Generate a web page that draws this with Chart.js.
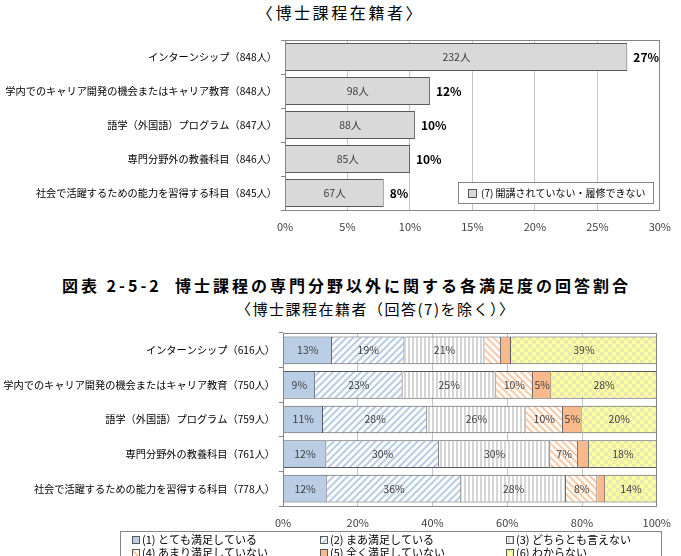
<!DOCTYPE html>
<html lang="ja">
<head>
<meta charset="utf-8">
<script src="https://cdn.jsdelivr.net/npm/chart.js@4/dist/chart.umd.min.js"></script>
<style>
  body { margin: 0; background: #fff; width: 681px; height: 556px; overflow: hidden; position: relative;
         font-family: "Noto Sans CJK JP", sans-serif; }
  .t { position: absolute; left: 0; width: 681px; text-align: center; color: #000; white-space: nowrap; line-height: 20px; }
  canvas { position: absolute; left: 0; }
</style>
</head>
<body>
<div class="t" style="top:2px;font-size:16px;letter-spacing:2.6px">〈博士課程在籍者〉</div>
<div class="t" style="top:275px;left:6px;font-size:16px;font-weight:bold;letter-spacing:3px">図表 2-5-2&nbsp;&nbsp;博士課程の専門分野以外に関する各満足度の回答割合</div>
<div class="t" style="top:299px;font-size:15px;letter-spacing:1.5px;left:236px;width:auto;text-align:left">〈博士課程在籍者（回答(7)を除く）〉</div>
<canvas id="chart-top" width="681" height="240" style="top:0"></canvas>
<canvas id="chart-bottom" width="681" height="236" style="top:320px"></canvas>
<script>
// =============================================
// データ
// =============================================
const topCategories = [
  'インターンシップ（848人）',
  '学内でのキャリア開発の機会またはキャリア教育（848人）',
  '語学（外国語）プログラム（847人）',
  '専門分野外の教養科目（846人）',
  '社会で活躍するための能力を習得する科目（845人）'
]
const topCounts  = [232, 98, 88, 85, 67]
const topPercent = [27.4, 11.6, 10.4, 10.0, 7.9]
const topLegend  = '(7) 開講されていない・履修できない'
const topTicks   = [0, 5, 10, 15, 20, 25, 30]

const bottomCategories = [
  'インターンシップ（616人）',
  '学内でのキャリア開発の機会またはキャリア教育（750人）',
  '語学（外国語）プログラム（759人）',
  '専門分野外の教養科目（761人）',
  '社会で活躍するための能力を習得する科目（778人）'
]
const levelLabels = [
  '(1) とても満足している',
  '(2) まあ満足している',
  '(3) どちらとも言えない',
  '(4) あまり満足していない',
  '(5) 全く満足していない',
  '(6) わからない'
]
const level1 = [13.1, 8.6, 10.7, 11.6, 11.7]
const level2 = [19.4, 23.4, 27.9, 30.1, 36.0]
const level3 = [21.4, 24.9, 26.3, 29.8, 28.0]
const level4 = [4.4, 10.0, 10.0, 7.4, 8.4]
const level5 = [2.7, 4.9, 5.0, 3.0, 2.1]
const level6 = [39.0, 28.2, 20.1, 18.1, 13.8]
const bottomTicks = [0, 20, 40, 60, 80, 100]

// =============================================
// 共通スタイル
// =============================================
const FONT = '"Noto Sans CJK JP", sans-serif'
const EDGE = '#5a5a5a'
const GRID = '#c4c4c4'

// =============================================
// パターン
// =============================================
function tile(size, draw) {
  const c = document.createElement('canvas')
  c.width = size; c.height = size
  const g = c.getContext('2d')
  g.fillStyle = '#fff'
  g.fillRect(0, 0, size, size)
  draw(g, size)
  return document.createElement('canvas').getContext('2d').createPattern(c, 'repeat')
}
function diag(color, forward) {
  return tile(7, (g, s) => {
    g.strokeStyle = color; g.lineWidth = 2
    const seg = (x1, y1, x2, y2) => {
      if (!forward) { x1 = s - x1; x2 = s - x2 }
      g.beginPath(); g.moveTo(x1, y1); g.lineTo(x2, y2); g.stroke()
    }
    seg(0, s, s, 0); seg(-1, 1, 1, -1); seg(s - 1, s + 1, s + 1, s - 1)
  })
}
const fills = [
  '#b9cde5',
  diag('#b9cde5', true),
  tile(4, g => { g.fillStyle = '#d6d6d6'; g.fillRect(0, 0, 2, 4) }),
  diag('#fbcaa6', false),
  '#fab98c',
  tile(8, g => {
    g.fillStyle = '#ffff9e'; g.fillRect(0, 0, 8, 8)
    g.fillStyle = '#e9e9b4'; g.fillRect(0, 0, 4, 4); g.fillRect(4, 4, 4, 4)
  })
]

// =============================================
// プラグイン
// =============================================
const frame = {
  id: 'frame',
  afterDatasetsDraw(chart) {
    const { ctx, chartArea: a } = chart
    ctx.save()
    ctx.strokeStyle = '#868686'; ctx.lineWidth = 1
    ctx.strokeRect(Math.round(a.left) + 0.5, Math.round(a.top) + 0.5,
                   Math.round(a.right - a.left) - 1, Math.round(a.bottom - a.top))
    ctx.restore()
  }
}

const topLabels = {
  id: 'topLabels',
  afterDatasetsDraw(chart) {
    const { ctx, chartArea: a } = chart
    const meta = chart.getDatasetMeta(0)
    ctx.save()
    ctx.textBaseline = 'middle'
    meta.data.forEach((bar, i) => {
      ctx.fillStyle = '#404040'; ctx.textAlign = 'center'
      ctx.font = `10.5px ${FONT}`
      ctx.fillText(topCounts[i] + '人', (bar.x + bar.base) / 2, bar.y)
      ctx.fillStyle = '#000'; ctx.textAlign = 'left'
      ctx.font = `bold 12px ${FONT}`
      ctx.fillText(Math.round(topPercent[i]) + '%', bar.x + 6, bar.y)
    })
    // 凡例（プロット内・右下）
    const bx = a.left + 173, by = a.bottom - 28
    ctx.fillStyle = '#fff'
    ctx.fillRect(bx, by, 195, 21)
    ctx.strokeStyle = '#868686'
    ctx.strokeRect(bx + 0.5, by + 0.5, 195, 21)
    ctx.fillStyle = '#d9d9d9'
    ctx.fillRect(bx + 10, by + 7, 8, 8)
    ctx.strokeStyle = EDGE
    ctx.strokeRect(bx + 10.5, by + 7.5, 8, 8)
    ctx.fillStyle = '#000'; ctx.textAlign = 'left'
    ctx.font = `10px ${FONT}`
    ctx.fillText(topLegend, bx + 23, by + 11.5)
    ctx.restore()
  }
}

const stackLabels = {
  id: 'stackLabels',
  afterDatasetsDraw(chart) {
    const { ctx } = chart
    ctx.save()
    ctx.fillStyle = '#404040'; ctx.textAlign = 'center'; ctx.textBaseline = 'middle'
    ctx.font = `10.5px ${FONT}`
    chart.data.datasets.forEach((ds, di) => {
      chart.getDatasetMeta(di).data.forEach((bar, i) => {
        const v = ds.data[i]
        if (v < 4.5) return
        ctx.fillText(Math.round(v) + '%', (bar.x + bar.base) / 2, bar.y)
      })
    })
    ctx.restore()
  }
}

const bottomLegend = {
  id: 'bottomLegend',
  afterDraw(chart) {
    const { ctx, chartArea: a } = chart
    const top = Math.round(a.bottom) + 25
    const cols = [132, 320, 506]
    ctx.save()
    ctx.strokeStyle = '#868686'; ctx.lineWidth = 1
    ctx.strokeRect(120.5, top + 0.5, 541, 60)
    ctx.font = `11px ${FONT}`; ctx.textBaseline = 'middle'; ctx.textAlign = 'left'
    chart.data.datasets.forEach((ds, i) => {
      const x = cols[i % 3], y = top + 9 + Math.floor(i / 3) * 13
      ctx.fillStyle = ds.backgroundColor
      ctx.fillRect(x, y - 4, 7, 7)
      ctx.strokeStyle = EDGE
      ctx.strokeRect(x + 0.5, y - 3.5, 7, 7)
      ctx.fillStyle = '#000'
      ctx.fillText(ds.label, x + 10, y)
    })
    ctx.restore()
  }
}

// =============================================
// Chart.js 設定
// =============================================
function axes(max, step, ticks, size) {
  return {
    x: {
      min: 0, max,
      afterBuildTicks: s => { s.ticks = ticks.map(v => ({ value: v })) },
      ticks: { stepSize: step, padding: 10, color: '#404040', font: { family: FONT, size: 11 },
               callback: v => v + '%' },
      grid: { color: GRID, drawTicks: false },
      border: { display: false },
      afterFit: s => { s.height = size.xh }
    },
    y: {
      ticks: { padding: 4, color: '#000', font: { family: FONT, size: 10.2 } },
      grid: { drawOnChartArea: false, offset: true, tickLength: 4, color: '#868686' },
      border: { color: '#868686' },
      afterFit: s => { s.width = size.yw }
    }
  }
}

new Chart(document.getElementById('chart-top'), {
  type: 'bar',
  data: {
    labels: topCategories,
    datasets: [{
      label: topLegend,
      data: topPercent,
      backgroundColor: '#d9d9d9', borderColor: EDGE, borderWidth: 1,
      barPercentage: 0.83, categoryPercentage: 1
    }]
  },
  options: {
    indexAxis: 'y', responsive: false, animation: false,
    layout: { padding: { top: 40, right: 19, left: 0, bottom: 0 } },
    plugins: { legend: { display: false }, tooltip: { enabled: false } },
    scales: axes(30, 5, topTicks, { yw: 285, xh: 30 })
  },
  plugins: [frame, topLabels]
})

const levels = [level1, level2, level3, level4, level5, level6]
new Chart(document.getElementById('chart-bottom'), {
  type: 'bar',
  data: {
    labels: bottomCategories,
    datasets: levels.map((data, i) => ({
      label: levelLabels[i],
      data,
      backgroundColor: fills[i], borderColor: EDGE, borderWidth: 1,
      barPercentage: 0.8, categoryPercentage: 1
    }))
  },
  options: {
    indexAxis: 'y', responsive: false, animation: false,
    layout: { padding: { top: 13, right: 20, left: 0, bottom: 0 } },
    plugins: { legend: { display: false }, tooltip: { enabled: false } },
    scales: (() => {
      const s = axes(100, 20, bottomTicks, { yw: 283, xh: 50 })
      s.x.stacked = true; s.y.stacked = true
      return s
    })()
  },
  plugins: [frame, stackLabels, bottomLegend]
})
</script>
</body>
</html>
